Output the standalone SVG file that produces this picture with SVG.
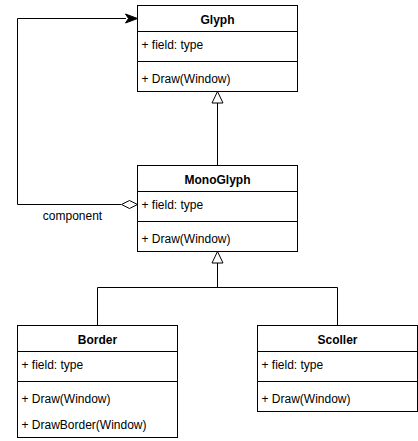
<svg xmlns="http://www.w3.org/2000/svg" width="418" height="441" viewBox="0 0 418 441">
<style>
.box{fill:#fff;stroke:#000;stroke-width:1}
.ln{fill:none;stroke:#000;stroke-width:1}
.t{font-family:"Liberation Sans",Arial,Helvetica,sans-serif;font-size:12px;fill:#000}
.h{font-weight:bold;text-anchor:middle}
.hollow{fill:#fff;stroke:#000;stroke-width:1}
.solid{fill:#000;stroke:#000;stroke-width:1}
</style>
<rect width="418" height="441" fill="#fff"/>
<g id="connectors">
  <polyline class="ln" points="217.5,103 217.5,165.5"/>
  <polygon class="hollow" points="217.5,91.5 223,103 212,103"/>
  <polyline class="ln" points="217.5,263 217.5,287.5"/>
  <polyline class="ln" points="97.5,325.5 97.5,287.5 337.5,287.5 337.5,325.5"/>
  <polygon class="hollow" points="217.5,251.5 223,263 212,263"/>
  <polyline class="ln" points="121,204.5 17.5,204.5 17.5,18.5 126,18.5"/>
  <polygon class="solid" points="137.5,18.5 125.5,14 128.5,18.5 125.5,23"/>
  <polygon class="hollow" points="137.5,204.5 129.5,200.5 121.5,204.5 129.5,208.5"/>
  <text class="t" x="72.5" y="219.5" text-anchor="middle">component</text>
</g>
<g id="glyph">
  <rect class="box" x="137.5" y="5.5" width="160" height="86"/>
  <line class="ln" x1="137.5" y1="31.5" x2="297.5" y2="31.5"/>
  <line class="ln" x1="137.5" y1="61.5" x2="297.5" y2="61.5"/>
  <text class="t h" x="217.5" y="23.5">Glyph</text>
  <text class="t" x="141.5" y="48.5">+ field: type</text>
  <text class="t" x="141.5" y="82.5">+ Draw(Window)</text>
</g>
<g id="monoglyph">
  <rect class="box" x="137.5" y="165.5" width="160" height="86"/>
  <line class="ln" x1="137.5" y1="191.5" x2="297.5" y2="191.5"/>
  <line class="ln" x1="137.5" y1="221.5" x2="297.5" y2="221.5"/>
  <text class="t h" x="217.5" y="183.5">MonoGlyph</text>
  <text class="t" x="141.5" y="208.5">+ field: type</text>
  <text class="t" x="141.5" y="242.5">+ Draw(Window)</text>
</g>
<g id="border">
  <rect class="box" x="17.5" y="325.5" width="160" height="112"/>
  <line class="ln" x1="17.5" y1="351.5" x2="177.5" y2="351.5"/>
  <line class="ln" x1="17.5" y1="381.5" x2="177.5" y2="381.5"/>
  <text class="t h" x="97.5" y="343.5">Border</text>
  <text class="t" x="21.5" y="368.5">+ field: type</text>
  <text class="t" x="21.5" y="402.5">+ Draw(Window)</text>
  <text class="t" x="21.5" y="428.5">+ DrawBorder(Window)</text>
</g>
<g id="scoller">
  <rect class="box" x="257.5" y="325.5" width="160" height="86"/>
  <line class="ln" x1="257.5" y1="351.5" x2="417.5" y2="351.5"/>
  <line class="ln" x1="257.5" y1="381.5" x2="417.5" y2="381.5"/>
  <text class="t h" x="337.5" y="343.5">Scoller</text>
  <text class="t" x="261.5" y="368.5">+ field: type</text>
  <text class="t" x="261.5" y="402.5">+ Draw(Window)</text>
</g>
</svg>
